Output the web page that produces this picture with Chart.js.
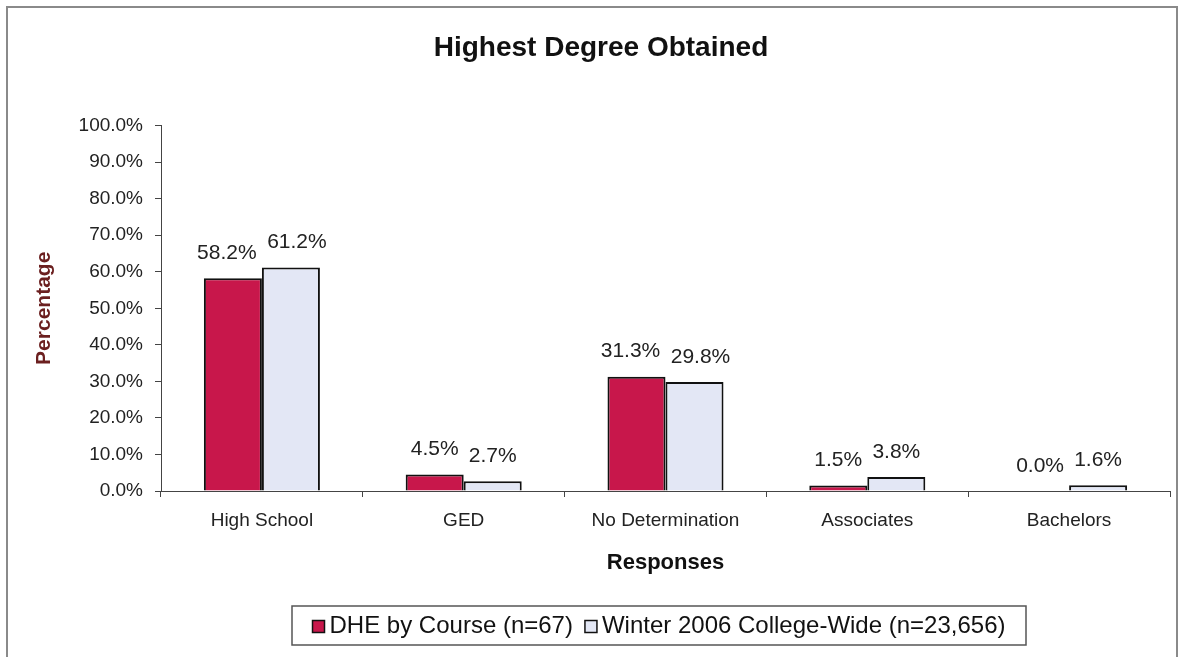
<!DOCTYPE html>
<html>
<head>
<meta charset="utf-8">
<script src="https://cdn.jsdelivr.net/npm/chart.js@4"></script>
<style>
  html, body { margin: 0; padding: 0; background: #fff; }
</style>
</head>
<body>
<canvas id="chart" width="1178" height="657"></canvas>
<script>
const categories = ['High School', 'GED', 'No Determination', 'Associates', 'Bachelors'];
const dheValues = [58.2, 4.5, 31.3, 1.5, 0.0];
const collegeValues = [61.2, 2.7, 29.8, 3.8, 1.6];
const seriesNames = ['DHE by Course (n=67)', 'Winter 2006 College-Wide (n=23,656)'];
const seriesColors = ['#c8174b', '#e3e7f5'];

const FONT = 'Arial, "Liberation Sans", sans-serif';

// grey frame round the whole picture
const framePlugin = {
    id: 'frame',
    beforeDraw(chart) {
        const ctx = chart.ctx;
        ctx.save();
        ctx.fillStyle = '#fff';
        ctx.fillRect(0, 0, chart.width, chart.height);
        ctx.strokeStyle = '#8a8a8a';
        ctx.lineWidth = 2;
        ctx.strokeRect(7, 7, chart.width - 8, chart.height + 10);
        ctx.restore();
    }
};

// value labels above each bar, nudged apart like excel does when they touch
const valueLabels = {
    id: 'valueLabels',
    afterDatasetsDraw(chart) {
        const ctx = chart.ctx;
        ctx.save();
        ctx.font = '21px ' + FONT;
        ctx.fillStyle = '#222';
        ctx.textAlign = 'center';
        ctx.textBaseline = 'middle';
        chart.data.datasets.forEach((ds, i) => {
            chart.getDatasetMeta(i).data.forEach((bar, j) => {
                const shift = ds.data[j] >= 10 ? (i === 0 ? -6 : 6) : 0;
                ctx.fillText(ds.data[j].toFixed(1) + '%', bar.x + shift, bar.y - 25);
            });
        });
        ctx.restore();
    }
};

// excel style legend in a box under the axis title
const boxLegend = {
    id: 'boxLegend',
    afterDraw(chart) {
        const ctx = chart.ctx;
        const left = 292, top = 606, w = 734, h = 39;
        ctx.save();
        ctx.strokeStyle = '#555';
        ctx.lineWidth = 1.5;
        ctx.strokeRect(left, top, w, h);
        ctx.font = '24px ' + FONT;
        ctx.textBaseline = 'middle';
        ctx.fillStyle = '#111';
        const sq = 12, gap = 5, between = 12;
        const items = chart.data.datasets.map(ds => ({ ds, tw: ctx.measureText(ds.label).width }));
        let total = 0;
        items.forEach((it, i) => { total += sq + gap + it.tw + (i ? between : 0); });
        let x = left + (w - total) / 2;
        const cy = top + h / 2 + 1;
        items.forEach((it, i) => {
            if (i) x += between;
            ctx.fillStyle = it.ds.backgroundColor;
            ctx.fillRect(x, cy - sq / 2, sq, sq);
            ctx.strokeStyle = '#111';
            ctx.lineWidth = 1.5;
            ctx.strokeRect(x, cy - sq / 2, sq, sq);
            x += sq + gap;
            ctx.fillStyle = '#111';
            ctx.fillText(it.ds.label, x, cy);
            x += it.tw;
        });
        ctx.restore();
    }
};

function makeDataset(i, values) {
    return {
        label: seriesNames[i],
        data: values,
        backgroundColor: seriesColors[i],
        borderColor: '#111',
        borderWidth: 2,
        borderSkipped: 'bottom',
        barPercentage: 1.0,
        categoryPercentage: 0.575
    };
}

new Chart(document.getElementById('chart'), {
    type: 'bar',
    data: {
        labels: categories,
        datasets: [makeDataset(0, dheValues), makeDataset(1, collegeValues)]
    },
    options: {
        responsive: false,
        animation: false,
        layout: { padding: { left: 32, right: 8, top: 0, bottom: 81 } },
        plugins: {
            title: {
                display: true,
                text: 'Highest Degree Obtained',
                color: '#111',
                font: { family: FONT, size: 28, weight: 'bold' },
                padding: { top: 31, bottom: 61 }
            },
            legend: { display: false },
            tooltip: { enabled: false }
        },
        scales: {
            x: {
                grid: { display: true, drawOnChartArea: false, offset: true, tickLength: 6, color: '#444' },
                border: { color: '#444', width: 1 },
                ticks: { color: '#222', font: { family: FONT, size: 19 }, padding: 12 },
                title: {
                    display: true,
                    text: 'Responses',
                    color: '#111',
                    font: { family: FONT, size: 22, weight: 'bold' },
                    padding: { top: 0, bottom: 0 }
                },
                afterFit(scale) { scale.height = 85; }
            },
            y: {
                min: 0,
                max: 100,
                ticks: {
                    stepSize: 10,
                    color: '#222',
                    font: { family: FONT, size: 19 },
                    padding: 12,
                    callback: v => v.toFixed(1) + '%'
                },
                grid: { display: true, drawOnChartArea: false, tickLength: 6, color: '#444' },
                border: { color: '#444', width: 1 },
                title: {
                    display: true,
                    text: 'Percentage',
                    color: '#6b1f1f',
                    font: { family: FONT, size: 21, weight: 'bold' },
                    padding: { top: 0, bottom: 0 }
                },
                afterFit(scale) { scale.width = 129; }
            }
        }
    },
    plugins: [framePlugin, valueLabels, boxLegend]
});
</script>
</body>
</html>
